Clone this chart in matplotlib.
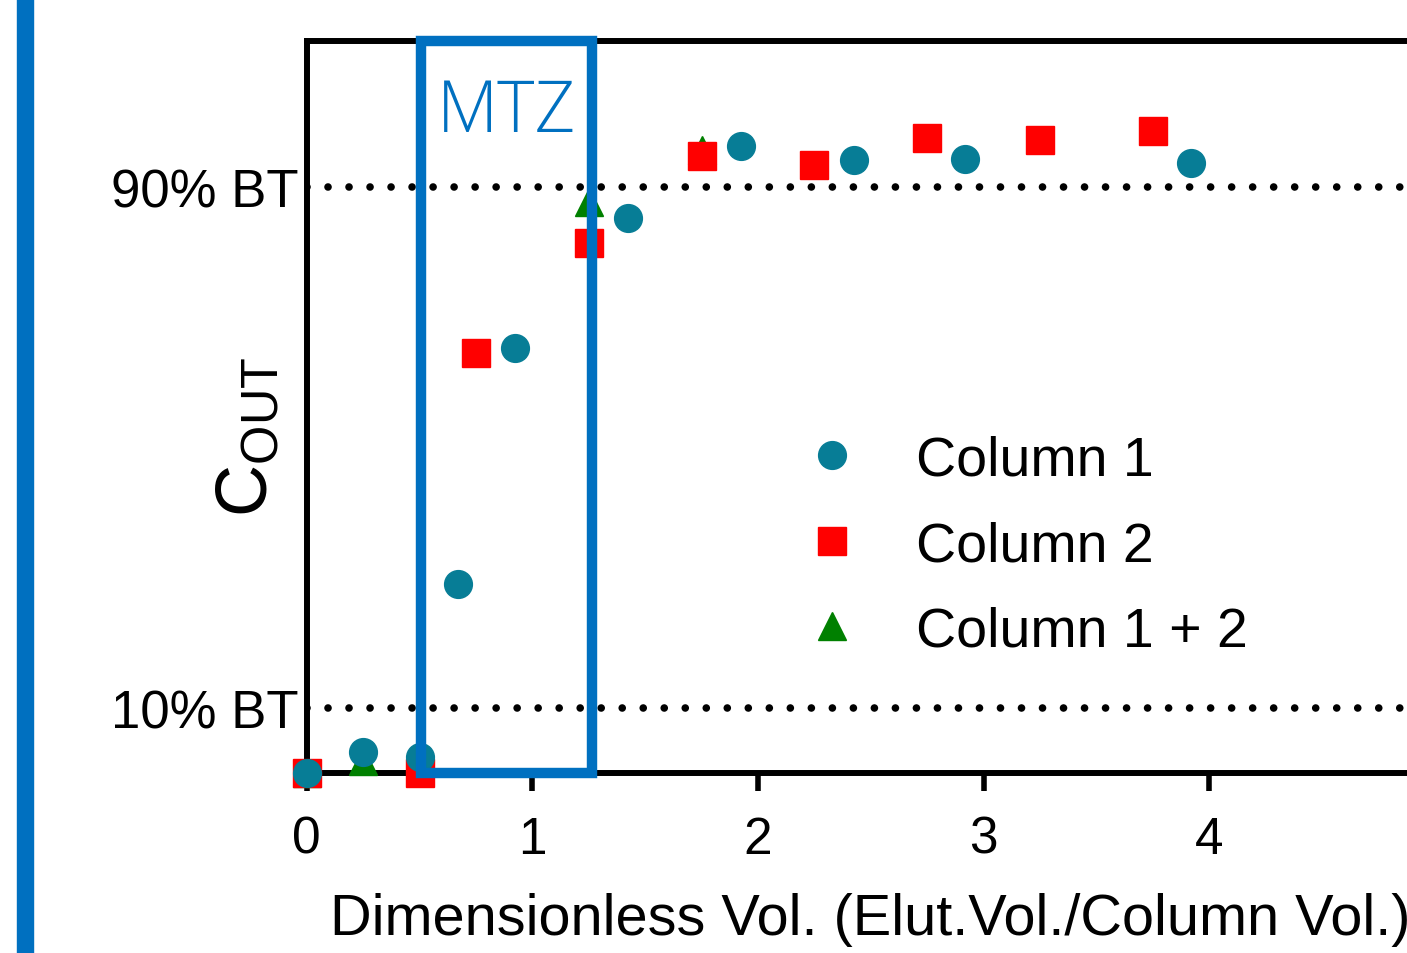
import matplotlib
matplotlib.use("Agg")
import matplotlib.pyplot as plt
from matplotlib.patches import Rectangle

plt.rcParams['font.family'] = ['Liberation Sans', 'DejaVu Sans']

# --- data ---
col1_x = [0, 0.25, 0.5, 0.67, 0.925, 1.425, 1.925, 2.425, 2.92, 3.92]
col1_y = [0, 0.033, 0.025, 0.29, 0.653, 0.853, 0.963, 0.941, 0.943, 0.937]

col2_x = [0, 0.5, 0.75, 1.25, 1.75, 2.25, 2.75, 3.25, 3.75]
col2_y = [0, 0, 0.645, 0.815, 0.948, 0.934, 0.975, 0.973, 0.986]

col12_x = [0, 0.25, 1.25, 1.75]
col12_y = [0, 0.019, 0.877, 0.957]

bt_levels = [0.1, 0.9]
bt_labels = ['10% BT', '90% BT']
x_ticks = [0, 1, 2, 3, 4]

mtz_start, mtz_end = 0.505, 1.265

TEAL = '#077d96'
RED = '#ff0000'
GREEN = '#008000'
BLUE = '#0070c0'

fig = plt.figure(figsize=(14.07, 9.54), dpi=100)
ax = fig.add_axes([0.218, 0.1886, 0.8017, 0.7677])
ax.set_xlim(0, 5)
ax.set_ylim(0, 1.125)

# left accent bar
fig.add_artist(Rectangle((0.0121, 0), 0.0114, 1, transform=fig.transFigure,
                         color=BLUE, zorder=0))

# breakthrough guide lines
for lvl in bt_levels:
    ax.axhline(lvl, color='black', lw=5.5, dashes=(0.001, 2.75),
               dash_capstyle='round', zorder=1)

ax.plot(col12_x, col12_y, '^', color=GREEN, ms=20, clip_on=False, zorder=3,
        label='Column 1 + 2')
ax.plot(col2_x, col2_y, 's', color=RED, ms=20, clip_on=False, zorder=4,
        label='Column 2')
ax.plot(col1_x, col1_y, 'o', color=TEAL, ms=20, clip_on=False, zorder=5,
        label='Column 1')

# mass transfer zone box
ax.add_patch(Rectangle((mtz_start, 0), mtz_end - mtz_start, 1.125,
                       fill=False, edgecolor=BLUE, lw=7.5, clip_on=False,
                       zorder=6))
ax.text((mtz_start + mtz_end) / 2, 1.015, 'MTZ', color=BLUE,
        fontsize=51, family=['Open Sans', 'DejaVu Sans'], fontweight='light',
        ha='center', va='center', zorder=7)

for side in ['left', 'bottom', 'top', 'right']:
    ax.spines[side].set_linewidth(4.3)

ax.set_xticks(x_ticks)
ax.set_xticklabels([str(t) for t in x_ticks])
ax.tick_params(axis='x', length=13, width=4, labelsize=37, pad=17)
ax.set_yticks(bt_levels)
ax.set_yticklabels(bt_labels)
ax.tick_params(axis='y', length=0, labelsize=38, pad=6)

ax.set_xlabel('Dimensionless Vol. (Elut.Vol./Column Vol.)', fontsize=41.5,
              labelpad=20)
ax.set_ylabel(r'C$_{\mathregular{OUT}}$', fontsize=52)
ax.yaxis.set_label_coords(-0.022, 0.46)

handles, labels = ax.get_legend_handles_labels()
order = [2, 1, 0]
ax.legend([handles[i] for i in order], [labels[i] for i in order],
          loc='upper left', bbox_to_anchor=(2.329 / 5 - 0.0246, 0.462),
          frameon=False, fontsize=40, numpoints=1, handlelength=1.0,
          handletextpad=1.0, labelspacing=0.6, borderpad=0, borderaxespad=0)

fig.savefig('out.png', dpi=100)
